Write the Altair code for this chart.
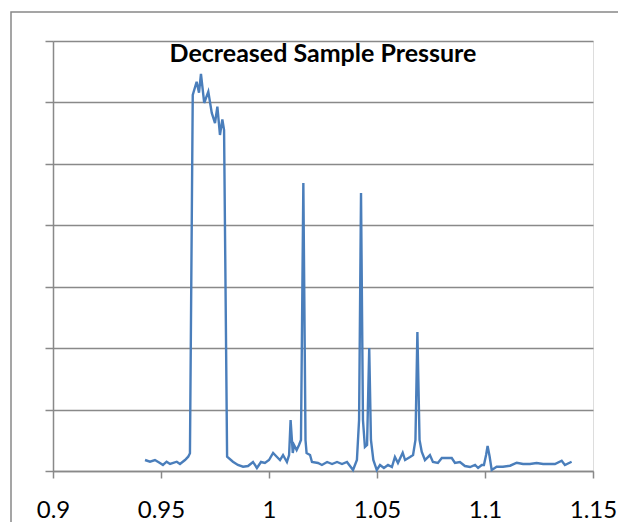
import altair as alt
import pandas as pd

# Data
x_vals = [
    0.9426, 0.9449, 0.9472, 0.9495, 0.9509, 0.9526, 0.9542, 0.9573, 0.9588, 0.9611,
    0.9626, 0.9634, 0.9647, 0.9665, 0.9676, 0.9685, 0.9700, 0.9719, 0.9735, 0.9750,
    0.9761, 0.9773, 0.9784, 0.9792, 0.9806, 0.9833, 0.9856, 0.9880, 0.9903, 0.9926,
    0.9944, 0.9963, 0.9981, 1.0000, 1.0019, 1.0037, 1.0051, 1.0065, 1.0083, 1.0093,
    1.0100, 1.0110, 1.0116, 1.0128, 1.0139, 1.0148, 1.0159, 1.0169, 1.0174, 1.0190,
    1.0199, 1.0227, 1.0245, 1.0269, 1.0292, 1.0315, 1.0338, 1.0361, 1.0375, 1.0389,
    1.0407, 1.0417, 1.0426, 1.0435, 1.0444, 1.0454, 1.0464, 1.0472, 1.0483, 1.0499,
    1.0514, 1.0532, 1.0551, 1.0569, 1.0583, 1.0597, 1.0619, 1.0630, 1.0653, 1.0667,
    1.0678, 1.0687, 1.0697, 1.0707, 1.0722, 1.0745, 1.0759, 1.0782, 1.0800, 1.0823,
    1.0846, 1.0861, 1.0884, 1.0907, 1.0931, 1.0954, 1.0968, 1.0985, 1.0995, 1.1005,
    1.1012, 1.1021, 1.1031, 1.1054, 1.1083, 1.1116, 1.1147, 1.1176, 1.1208, 1.1239,
    1.1269, 1.1301, 1.1324, 1.1355, 1.1370, 1.1401,
]
y_vals = [
    0.179, 0.151, 0.179, 0.130, 0.098, 0.151, 0.114, 0.151, 0.114, 0.179,
    0.233, 0.288, 6.121, 6.337, 6.158, 6.463, 5.991, 6.175, 5.828, 5.665,
    5.930, 5.470, 5.725, 5.551, 0.233, 0.151, 0.098, 0.070, 0.081, 0.147,
    0.049, 0.147, 0.130, 0.179, 0.293, 0.228, 0.179, 0.260, 0.147, 0.260,
    0.830, 0.293, 0.423, 0.342, 0.423, 0.505, 4.688, 0.505, 0.293, 0.260,
    0.147, 0.130, 0.098, 0.147, 0.114, 0.147, 0.114, 0.147, 0.081, 0.016,
    0.179, 0.830, 4.525, 0.830, 0.391, 0.423, 2.002, 0.505, 0.179, 0.016,
    0.098, 0.049, 0.098, 0.065, 0.228, 0.130, 0.298, 0.179, 0.228, 0.260,
    0.505, 2.263, 0.505, 0.314, 0.179, 0.260, 0.147, 0.130, 0.212, 0.212,
    0.212, 0.130, 0.147, 0.081, 0.065, 0.098, 0.049, 0.098, 0.098, 0.260,
    0.407, 0.244, 0.016, 0.070, 0.070, 0.086, 0.135, 0.114, 0.114, 0.130,
    0.114, 0.114, 0.114, 0.168, 0.098, 0.151,
]
x_ticks = [0.9, 0.95, 1.0, 1.05, 1.1, 1.15]
y_ticks = [0, 1, 2, 3, 4, 5, 6, 7]
title_text = "Decreased Sample Pressure"

df = pd.DataFrame({"x": x_vals, "y": y_vals})

FONT = "Lato"
GRAY = "#898989"

line = alt.Chart(df).mark_line(color="#4A7EBB", strokeWidth=2.4).encode(
    x=alt.X(
        "x:Q",
        scale=alt.Scale(domain=[0.9, 1.15], nice=False, zero=False),
        axis=alt.Axis(
            values=x_ticks, format=".2~f", title=None, grid=False,
            domainColor=GRAY, domainWidth=1.5, tickColor=GRAY, tickWidth=1.5,
            tickSize=7, labelFont=FONT, labelFontSize=24, labelColor="#000000",
            labelPadding=20, labelFlush=False,
        ),
    ),
    y=alt.Y(
        "y:Q",
        scale=alt.Scale(domain=[0, 7], nice=False),
        axis=alt.Axis(
            values=y_ticks, labels=False, title=None, grid=True,
            gridColor=GRAY, gridWidth=1.5, domainColor=GRAY, domainWidth=1.5,
            tickColor=GRAY, tickWidth=1.5, tickSize=8,
        ),
    ),
)

title = alt.Chart(pd.DataFrame({"t": [title_text]})).mark_text(
    font=FONT, fontSize=25, fontWeight="bold", color="#000000",
    baseline="alphabetic", align="center",
).encode(text="t:N", x=alt.value(270), y=alt.value(21))

border = alt.Chart(pd.DataFrame({"a": [0]})).mark_rect(
    fill="transparent", stroke="#888888", strokeWidth=1.5,
).encode(x=alt.value(-42), y=alt.value(-29), x2=alt.value(700), y2=alt.value(600))

chart = alt.layer(border, line, title).properties(
    width=540, height=430,
    autosize=alt.AutoSizeParams(type="none"),
    padding={"left": 45, "top": 33, "right": 25, "bottom": 51},
).configure_view(stroke=None).configure(background="white")

chart.save("out.html", embed_options={"renderer": "svg", "actions": False})
